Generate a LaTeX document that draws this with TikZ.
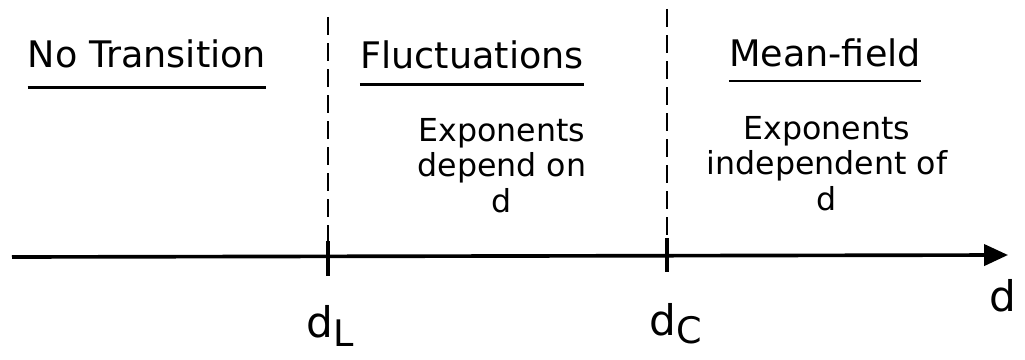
\documentclass[tikz,border=0pt]{standalone}
\usepackage{fontspec}
\setmainfont{DejaVu Sans}
\usetikzlibrary{arrows.meta,positioning}

\begin{document}
\begin{tikzpicture}[
    x=0.025cm, y=-0.025cm,
    regime/.style={font=\fontsize{26}{30}\selectfont, anchor=base, inner sep=0pt},
    note/.style={font=\fontsize{22.5}{25}\selectfont, anchor=base, inner sep=0pt, align=center},
    dlabel/.style={font=\fontsize{30}{32}\selectfont, anchor=base, inner sep=0pt},
    uline/.style={line width=1.8pt},
    divider/.style={line width=1.4pt, dash pattern=on 12.5pt off 6pt},
    tick/.style={line width=2.8pt},
    axis/.style={line width=2.6pt, -{Triangle[length=17pt, width=15pt]}}
]
    \useasboundingbox (0,0) rectangle (1025,360);

    % Regime titles, underlined
    \node[regime] (none)  at (147,68) {No Transition};
    \node[regime] (fluct) at (472,69) {Fluctuations};
    \node[regime] (mean)  at (825,67) {Mean-field};
    \draw[uline] ([yshift=-14pt]none.base west)  -- ([yshift=-14pt]none.base east);
    \draw[uline] ([yshift=-11pt]fluct.base west) -- ([yshift=-11pt]fluct.base east);
    \draw[uline] ([yshift=-10pt]mean.base west)  -- ([yshift=-10pt]mean.base east);

    % Notes under the titles (base = last line)
    \node[note] (fluctnote) at (502,212) {Exponents\\depend on\\d};
    \node[note] (meannote)  at (827,210) {Exponents\\independent of\\d};

    % Dimension axis
    \coordinate (start) at (12,257);
    \coordinate (stop)  at (1008,255);
    \draw[axis] (start) -- (stop);

    % Dividers at d_L and d_C
    \coordinate (dLtop) at (328,17);
    \coordinate (dLmid) at (328,241);
    \coordinate (dLbot) at (328,276);
    \coordinate (dCtop) at (667,9);
    \coordinate (dCmid) at (667,238);
    \coordinate (dCbot) at (667,272);
    \draw[divider] (dLtop) -- (dLmid);
    \draw[divider] (dCtop) -- (dCmid);
    \draw[tick] (dLmid) -- (dLbot);
    \draw[tick] (dCmid) -- (dCbot);

    % Axis labels
    \node[dlabel] (dL) at (330,337) {d\raisebox{-7pt}{\fontsize{26}{26}\selectfont L}};
    \node[dlabel] (dC) at (676,335) {d\raisebox{-6pt}{\fontsize{26}{26}\selectfont C}};
    \node[dlabel] (dd) at (1003,311) {d};
\end{tikzpicture}
\end{document}
